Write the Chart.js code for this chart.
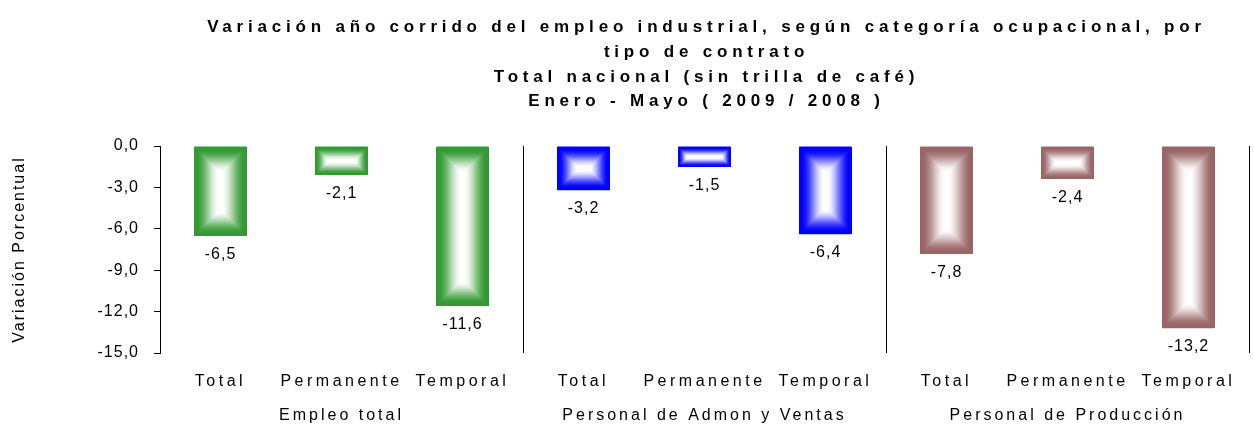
<!DOCTYPE html>
<html lang="es">
<head>
<meta charset="UTF-8">
<title>Variación año corrido del empleo industrial</title>
<style>
    body { margin: 0; background: #fff; }
    .chart-container { width: 1254px; height: 438px; }
</style>
</head>
<body>
<div class="chart-container">
    <canvas id="empleoChart"></canvas>
</div>

<script src="https://cdn.jsdelivr.net/npm/chart.js"></script>
<script>
    // Chart data
    const titleLines = [
        'Variación año corrido del empleo industrial, según categoría ocupacional, por',
        'tipo de contrato',
        'Total nacional (sin trilla de café)',
        'Enero - Mayo ( 2009 / 2008 )'
    ];
    const categories = ['Total', 'Permanente', 'Temporal', 'Total', 'Permanente', 'Temporal', 'Total', 'Permanente', 'Temporal'];
    const groups = ['Empleo total', 'Personal de Admon y Ventas', 'Personal de Producción'];
    const values = [-6.5, -2.1, -11.6, -3.2, -1.5, -6.4, -7.8, -2.4, -13.2];
    const groupColors = ['#339933', '#0000ff', '#996666'];
    const yMin = -15, yMax = 0, yStep = 3;

    const FONT = "'Liberation Sans', Arial, sans-serif";
    const fmt = v => v.toFixed(1).replace('.', ',');

    function hexToRgb(hex) {
        const n = parseInt(hex.slice(1), 16);
        return [(n >> 16) & 255, (n >> 8) & 255, n & 255];
    }

    // "from centre" rectangular gradient, colour at the edges, white in the middle
    function gradientTile(w, h, hex) {
        const c = document.createElement('canvas');
        c.width = w; c.height = h;
        const g = c.getContext('2d');
        const img = g.createImageData(w, h);
        const rgb = hexToRgb(hex);
        const d = Math.min(w, h) / 2;
        for (let y = 0; y < h; y++) {
            for (let x = 0; x < w; x++) {
                const dx = Math.min(x + 0.5, w - x - 0.5);
                const dy = Math.min(y + 0.5, h - y - 0.5);
                const s = Math.min(dx, dy) / d;
                let a = Math.min(1, Math.max(0, (s - 0.08) / 0.88));
                a = a * a * (3 - 2 * a);
                const k = (y * w + x) * 4;
                img.data[k] = Math.round(rgb[0] + (255 - rgb[0]) * a);
                img.data[k + 1] = Math.round(rgb[1] + (255 - rgb[1]) * a);
                img.data[k + 2] = Math.round(rgb[2] + (255 - rgb[2]) * a);
                img.data[k + 3] = 255;
            }
        }
        g.putImageData(img, 0, 0);
        return c;
    }

    const barStylePlugin = {
        id: 'barStyle',
        afterDatasetsDraw(chart) {
            const ctx = chart.ctx;
            const meta = chart.getDatasetMeta(0);
            ctx.save();
            meta.data.forEach((bar, i) => {
                const p = bar.getProps(['x', 'y', 'base', 'width'], true);
                const l = Math.round(p.x - p.width / 2), r = Math.round(p.x + p.width / 2);
                const t = Math.round(Math.min(p.y, p.base)), b = Math.round(Math.max(p.y, p.base));
                if (r - l > 0 && b - t > 0) {
                    ctx.drawImage(gradientTile(r - l, b - t, groupColors[Math.floor(i / 3)]), l, t);
                }
                ctx.letterSpacing = '1px';
                ctx.fillStyle = '#000';
                ctx.font = '16px ' + FONT;
                ctx.textAlign = 'center';
                ctx.textBaseline = 'middle';
                ctx.fillText(fmt(values[i]), p.x, b + 19);
            });
            ctx.restore();
        },
        afterDraw(chart) {
            const ctx = chart.ctx;
            const x = chart.scales.x;
            const area = chart.chartArea;
            const half = (x.getPixelForValue(1) - x.getPixelForValue(0)) / 2;
            ctx.save();
            // group separators
            ctx.strokeStyle = '#000';
            ctx.lineWidth = 1;
            groups.forEach((g, gi) => {
                const px = Math.round(x.getPixelForValue(gi * 3 + 2) + half) + 0.5;
                ctx.beginPath();
                ctx.moveTo(px, area.top);
                ctx.lineTo(px, area.bottom);
                ctx.stroke();
            });
            // group labels
            ctx.fillStyle = '#000';
            ctx.font = '16px ' + FONT;
            ctx.letterSpacing = '3px';
            ctx.textAlign = 'center';
            ctx.textBaseline = 'middle';
            groups.forEach((g, gi) => {
                ctx.fillText(g, x.getPixelForValue(gi * 3 + 1), 416);
            });
            // title
            ctx.font = 'bold 17px ' + FONT;
            ctx.letterSpacing = '4.8px';
            const titleY = [27, 52, 77, 101];
            const centerX = (area.left + area.right) / 2;
            titleLines.forEach((line, li) => {
                ctx.fillText(line, centerX + 2, titleY[li]);
            });
            ctx.restore();
        }
    };

    // letter spacing for the library-drawn texts
    const spacingPlugin = {
        id: 'spacing',
        beforeDraw(chart) {
            chart.ctx.letterSpacing = '1px';
            const xs = chart.scales.x, ys = chart.scales.y;
            if (!xs._spaced) {
                const orig = xs.drawLabels;
                xs.drawLabels = function (a) {
                    this.ctx.letterSpacing = '3.5px';
                    orig.call(this, a);
                    this.ctx.letterSpacing = '1px';
                };
                xs._spaced = true;
            }
            if (!ys._spaced) {
                const orig = ys.drawTitle;
                ys.drawTitle = function (a) {
                    this.ctx.letterSpacing = '2px';
                    orig.call(this, a);
                    this.ctx.letterSpacing = '1px';
                };
                ys._spaced = true;
            }
        }
    };

    const ctx = document.getElementById('empleoChart').getContext('2d');
    new Chart(ctx, {
        type: 'bar',
        data: {
            labels: categories,
            datasets: [{
                data: values,
                backgroundColor: values.map((v, i) => groupColors[Math.floor(i / 3)]),
                borderWidth: 0,
                barPercentage: 0.43,
                categoryPercentage: 1
            }]
        },
        options: {
            responsive: true,
            maintainAspectRatio: false,
            animation: false,
            layout: { padding: { top: 146, right: 5, bottom: 0, left: 0 } },
            plugins: {
                legend: { display: false },
                tooltip: { enabled: false }
            },
            scales: {
                x: {
                    grid: { display: false, drawTicks: false },
                    border: { display: false },
                    ticks: {
                        color: '#000',
                        font: { family: FONT, size: 16 },
                        padding: 19,
                        autoSkip: false,
                        maxRotation: 0
                    },
                    afterFit: s => { s.height = 85; }
                },
                y: {
                    min: yMin,
                    max: yMax,
                    grid: { drawOnChartArea: false, drawTicks: true, tickLength: 6, color: '#000' },
                    border: { display: true, color: '#000', width: 1 },
                    ticks: {
                        stepSize: yStep,
                        color: '#000',
                        padding: 15,
                        font: { family: FONT, size: 16 },
                        callback: v => fmt(v)
                    },
                    title: {
                        display: true,
                        text: 'Variación Porcentual',
                        color: '#000',
                        font: { family: FONT, size: 16 },
                        padding: { top: 10, bottom: 0 }
                    },
                    afterFit: s => { s.width = 160; }
                }
            }
        },
        plugins: [spacingPlugin, barStylePlugin]
    });
</script>
</body>
</html>
